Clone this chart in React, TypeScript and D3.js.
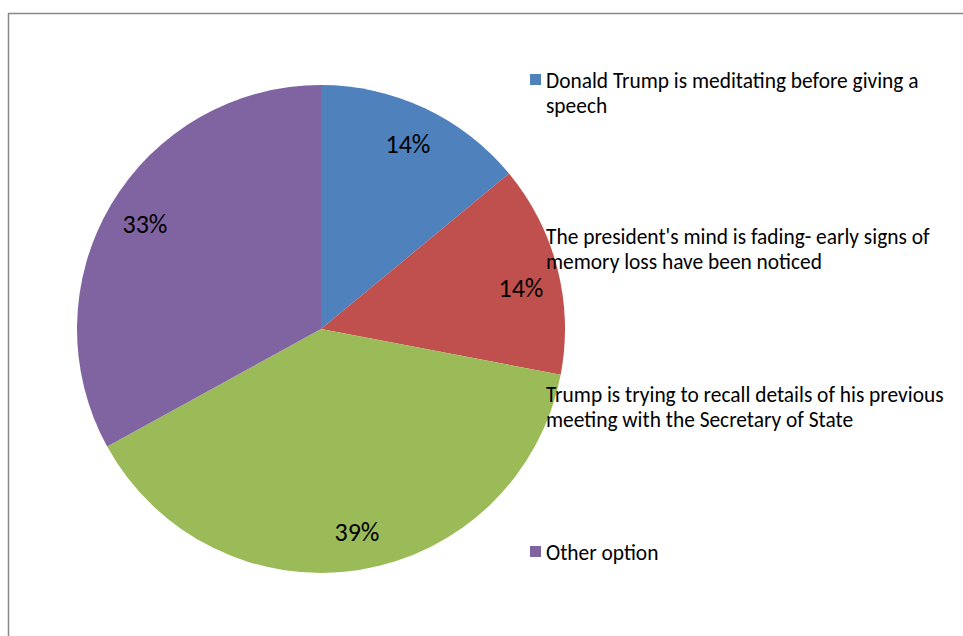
import React from "react";
import * as d3 from "d3";

const categories = [
  "Donald Trump is meditating before giving a speech",
  "The president's mind is fading- early signs of memory loss have been noticed",
  "Trump is trying to recall details of his previous meeting with the Secretary of State",
  "Other option",
];
const legendLines = [
  ["Donald Trump is meditating before giving a", "speech"],
  ["The president's mind is fading- early signs of", "memory loss have been noticed"],
  ["Trump is trying to recall details of his previous", "meeting with the Secretary of State"],
  ["Other option"],
];
const values = [14, 14, 39, 33];
const colors = ["#4F81BD", "#C0504D", "#9BBB59", "#8064A2"];
const labelPos = [
  [408, 143.5],
  [521, 288],
  [357, 532],
  [145, 224],
];
const legendTop = [88, 244, 402, 560];

export default function App() {
  const cx = 321, cy = 329, r = 244;
  const pie = d3.pie<number>().sort(null).value((d) => d)(values);
  const arc = d3.arc<d3.PieArcDatum<number>>().innerRadius(0).outerRadius(r);
  const font = "Carlito, Calibri, 'Open Sans', sans-serif";
  return (
    <svg width={963} height={636} style={{ position: "absolute", left: 0, top: 0 }}>
      <rect x={8.5} y={13.5} width={1000} height={700} fill="white" stroke="#888" strokeWidth={1.5} />
      {legendTop.map((y, i) => (
        <rect key={"m" + i} x={530} y={y - 14} width={11} height={11} fill={colors[i]} />
      ))}
      <g transform={`translate(${cx},${cy})`}>
        {pie.map((p, i) => (
          <path key={i} d={arc(p) || ""} fill={colors[i]} />
        ))}
      </g>
      {pie.map((p, i) => (
        <text key={"l" + i} x={labelPos[i][0]} y={labelPos[i][1]} textAnchor="middle" dominantBaseline="central" fontFamily={font} fontSize={26} fill="#000">
          {`${values[i]}%`}
        </text>
      ))}
      {legendLines.map((lines, i) => (
        <text key={"t" + i} fontFamily={font} fontSize={21.4} fill="#000">
          {lines.map((ln, j) => (
            <tspan key={j} x={546} y={legendTop[i] + j * 25}>{ln}</tspan>
          ))}
        </text>
      ))}
    </svg>
  );
}
